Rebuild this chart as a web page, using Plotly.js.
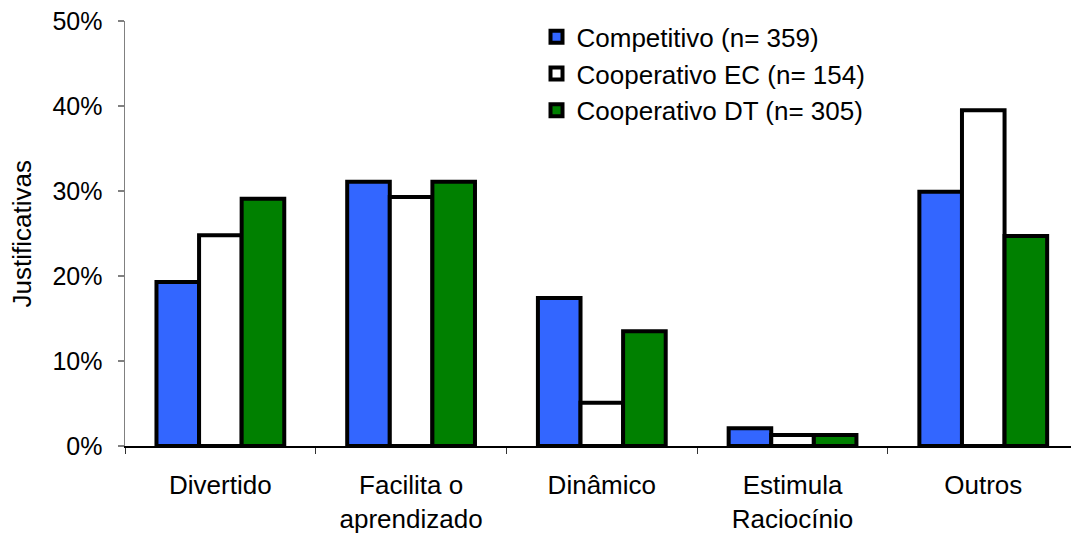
<!DOCTYPE html>
<html>
<head>
<meta charset="utf-8">
<script src="https://cdn.plot.ly/plotly-3.0.1.min.js"></script>
<style>html,body{margin:0;padding:0;background:#fff;}#chart{width:1071px;height:537px;}</style>
</head>
<body>
<div id="chart"></div>
<script>
const categories = ["Divertido", "Facilita o<br>aprendizado", "Dinâmico", "Estimula<br>Raciocínio", "Outros"];
const seriesNames = ["Competitivo (n= 359)", "Cooperativo EC (n= 154)", "Cooperativo DT (n= 305)"];
const competitivo = [0.193, 0.311, 0.174, 0.021, 0.299];
const cooperativoEC = [0.248, 0.293, 0.051, 0.013, 0.395];
const cooperativoDT = [0.291, 0.311, 0.135, 0.013, 0.247];
const colors = ["#3366FF", "#FFFFFF", "#008000"];
const yTicks = [0, 0.1, 0.2, 0.3, 0.4, 0.5];
const yTickText = ["0%", "10%", "20%", "30%", "40%", "50%"];

const values = [competitivo, cooperativoEC, cooperativoDT];
const traces = values.map((v, i) => ({
  type: "bar",
  name: seriesNames[i],
  x: categories,
  y: v,
  marker: {color: colors[i], line: {color: "#000000", width: 4}},
  hoverinfo: "none"
}));

const fam = "Liberation Sans, Arial, sans-serif";
const font = {family: fam, size: 26, color: "#000"};
const layout = {
  width: 1071, height: 537,
  margin: {l: 125, r: 0, t: 21, b: 91, pad: 0},
  paper_bgcolor: "#fff", plot_bgcolor: "#fff",
  font: font,
  barmode: "group",
  bargap: 0.33,
  bargroupgap: 0,
  showlegend: true,
  legend: {x: 0.435, y: 1.018, xanchor: "left", yanchor: "top", bgcolor: "rgba(0,0,0,0)",
           font: {family: fam, size: 26, color: "#000"}, itemwidth: 30, tracegroupgap: 0},
  xaxis: {
    type: "category", range: [-0.5, 4.46], fixedrange: true,
    showline: true, linecolor: "#000", linewidth: 1.5,
    ticks: "outside", tickson: "boundaries", ticklen: 6, tickcolor: "#333", tickwidth: 1,
    ticklabelstandoff: 15,
    showgrid: false, zeroline: false,
    tickfont: {family: fam, size: 26, color: "#000"}
  },
  yaxis: {
    range: [0, 0.5], fixedrange: true,
    tickvals: yTicks, ticktext: yTickText,
    showline: true, linecolor: "#808080", linewidth: 1.5,
    ticks: "outside", ticklen: 6, tickcolor: "#808080", tickwidth: 1.5,
    ticklabelstandoff: 10,
    showgrid: false, zeroline: false,
    tickfont: {family: fam, size: 25, color: "#000"}
  },
  annotations: [{
    text: "Justificativas", xref: "paper", yref: "paper", x: -0.109, y: 0.5,
    xanchor: "center", yanchor: "middle", textangle: -90, showarrow: false,
    font: {family: fam, size: 26, color: "#000"}
  }]
};

Plotly.newPlot("chart", traces, layout, {staticPlot: true, displayModeBar: false});
</script>
</body>
</html>
